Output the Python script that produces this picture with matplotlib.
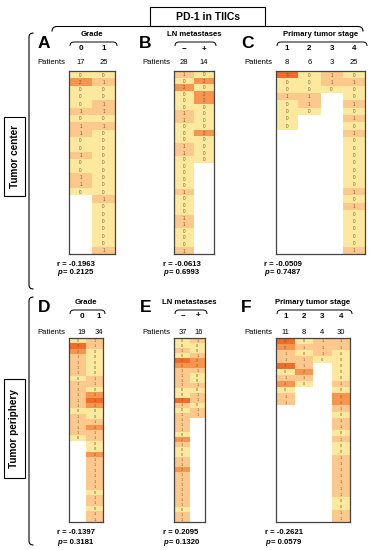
import numpy as np
import matplotlib.pyplot as plt
from matplotlib.colors import ListedColormap, BoundaryNorm
from matplotlib.patches import Rectangle, PathPatch
from matplotlib.path import Path

plt.rcParams['font.family'] = ['Liberation Sans', 'DejaVu Sans']

W, H = 372, 550

# ---- data -------------------------------------------------------------
GRADE_LABELS = ["0", "1"]
LN_LABELS = ["\u2212", "+"]
STAGE_LABELS = ["1", "2", "3", "4"]

CENTER_GRADE = [
    [0, 2, 0, 0, 0, 1, 0, 1, 1, 0, 0, 1, 0, 0, 1, 1, 0],
    [0, 1, 0, 0, 1, 1, 0, 1, 0, 0, 0, 0, 0, 0, 0, 0, 0, 1, 0, 0, 0, 0, 0, 0, 1],
]
CENTER_LN = [
    [1, 0, 2, 0, 0, 0, 1, 1, 0, 0, 0, 1, 1, 0, 0, 0, 0, 0, 1, 0, 0, 0, 1, 1, 0, 0, 0, 1],
    [0, 2, 0, 2, 2, 0, 0, 0, 0, 2, 0, 0, 0, 0],
]
CENTER_STAGE = [
    [3, 0, 0, 1, 0, 0, 0, 0],
    [0, 0, 0, 1, 1, 0],
    [1, 1, 0],
    [0, 1, 0, 0, 1, 0, 1, 0, 1, 0, 0, 0, 0, 0, 0, 0, 1, 0, 1, 0, 0, 0, 0, 0, 1],
]
PERIPH_GRADE = [
    [0, 3, 2, 1, 1, 1, 1, 0, 1, 1, 1, 1, 1, 0, 1, 1, 1, 1, 0],
    [1, 1, 0, 0, 0, 0, 0, 1, 1, 0, 2, 3, 2, 0, 0, 1, 2, 1, 1, 0, 0, 2, 1, 1, 1, 1, 1, 1, 0, 1, 1, 0, 1, 1],
]
PERIPH_LN = [
    [0, 0, 1, 0, 3, 2, 1, 1, 1, 1, 0, 0, 3, 1, 0, 1, 1, 1, 1, 0, 2, 1, 0, 0, 1, 1, 2, 1, 1, 1, 1, 1, 1, 1, 0, 1, 1],
    [1, 0, 0, 1, 2, 2, 1, 0, 0, 1, 0, 1, 1, 0, 1, 1],
]
PERIPH_STAGE = [
    [3, 2, 1, 1, 3, 0, 1, 2, 0, 1, 1],
    [0, 1, 0, 1, 1, 2, 1, 0],
    [1, 1, 1, 0],
    [1, 1, 0, 0, 0, 0, 0, 1, 0, 2, 2, 1, 0, 1, 1, 0, 1, 0, 0, 1, 1, 1, 1, 1, 1, 1, 0, 0, 1, 1],
]
R_VALUES = ["-0.1963", "-0.0613", "-0.0509", "-0.1397", "0.2095", "-0.2621"]
P_VALUES = ["0.2125", "0.6993", "0.7487", "0.3181", "0.1320", "0.0579"]

# ---- style ------------------------------------------------------------
CELL_COLORS = ['#fde99e', '#fcc88c', '#f7954f', '#f06c28']
CELL_TEXT = '#6e5a3c'
cmap = ListedColormap(CELL_COLORS)
norm = BoundaryNorm([-0.5, 0.5, 1.5, 2.5, 3.5], cmap.N)

TOP = dict(letter_y=43, title_y=34, brace_y=42, head_y=49, pat_y=63,
           box_y=(71, 254), r_y=264, p_y=272, cell_fs=3.3)
BOT = dict(letter_y=307, title_y=302, brace_y=310, head_y=316, pat_y=333,
           box_y=(338, 522), r_y=533, p_y=543, cell_fs=2.7)

PANELS = [
    ("A", "Grade", GRADE_LABELS, CENTER_GRADE, (69, 115), 0, TOP),
    ("B", "LN metastases", LN_LABELS, CENTER_LN, (174, 214), 0, TOP),
    ("C", "Primary tumor stage", STAGE_LABELS, CENTER_STAGE, (276, 365), 0, TOP),
    ("D", "Grade", GRADE_LABELS, PERIPH_GRADE, (69, 103), 4, BOT),
    ("E", "LN metastases", LN_LABELS, PERIPH_LN, (174, 205), 1, BOT),
    ("F", "Primary tumor stage", STAGE_LABELS, PERIPH_STAGE, (276, 350), 0, BOT),
]
LETTER_X = [44, 145, 247, 44, 146, 246]
STAT_X = [57, 163, 264, 57, 163, 265]


def hbrace(ax, x0, x1, y, h=4.5, r=4, lw=0.8):
    verts = [(x0, y + h), (x0, y), (x0 + r, y), (x1 - r, y), (x1, y), (x1, y + h)]
    codes = [Path.MOVETO, Path.CURVE3, Path.CURVE3, Path.LINETO, Path.CURVE3, Path.CURVE3]
    ax.add_patch(PathPatch(Path(verts, codes), fill=False, lw=lw, color='black'))


def vbrace(ax, x, y0, y1, w=4.5, r=4, lw=0.8):
    verts = [(x + w, y0), (x, y0), (x, y0 + r), (x, y1 - r), (x, y1), (x + w, y1)]
    codes = [Path.MOVETO, Path.CURVE3, Path.CURVE3, Path.LINETO, Path.CURVE3, Path.CURVE3]
    ax.add_patch(PathPatch(Path(verts, codes), fill=False, lw=lw, color='black'))


def draw_heatmap(fig, cols, xr, yr, fs):
    nmax = max(len(c) for c in cols)
    arr = np.full((nmax, len(cols)), np.nan)
    for j, c in enumerate(cols):
        arr[:len(c), j] = c
    ax = fig.add_axes([xr[0] / W, 1 - yr[1] / H, (xr[1] - xr[0]) / W, (yr[1] - yr[0]) / H])
    ax.pcolormesh(np.ma.masked_invalid(arr), cmap=cmap, norm=norm)
    for j, c in enumerate(cols):
        for i, v in enumerate(c):
            ax.text(j + 0.5, i + 0.55, str(v), ha='center', va='center',
                    fontsize=fs, color=CELL_TEXT)
    ax.set_xlim(0, len(cols))
    ax.set_ylim(nmax, 0)
    ax.set_xticks([])
    ax.set_yticks([])
    for s in ax.spines.values():
        s.set_color('#444444')
        s.set_linewidth(0.9)


def main():
    fig = plt.figure(figsize=(W / 100, H / 100), dpi=100)
    ov = fig.add_axes([0, 0, 1, 1])
    ov.set_xlim(0, W)
    ov.set_ylim(H, 0)
    ov.axis('off')

    # header box and big brace
    ov.add_patch(Rectangle((150, 7), 115, 19, fill=False, lw=0.8, color='black'))
    ov.text(207.5, 16.5, "PD-1 in TIICs", ha='center', va='center',
            fontsize=7.5, fontweight='bold')
    hbrace(ov, 52, 363, 26.5, h=5, r=5)

    # row labels
    vbrace(ov, 29, 33, 289)
    vbrace(ov, 29, 297, 545)
    for (y0, y1, label) in [(117, 196, "Tumor center"), (379, 478, "Tumor periphery")]:
        ov.add_patch(Rectangle((4, y0), 21, y1 - y0, fill=False, lw=0.8, color='black'))
        ov.text(14.5, (y0 + y1) / 2, label, rotation=90, ha='center', va='center',
                fontsize=7.2, fontweight='bold')

    for k, (letter, title, heads, cols, xr, dx, row) in enumerate(PANELS):
        x0, x1 = xr
        ncol = len(cols)
        cw = (x1 - x0) / ncol
        ov.text(LETTER_X[k], row['letter_y'], letter, ha='center', va='center',
                fontsize=12.5, fontweight='bold')
        ov.text((x0 + x1) / 2, row['title_y'], title, ha='center', va='center',
                fontsize=5.6, fontweight='bold')
        hbrace(ov, x0 + 1, x1 + 2, row['brace_y'], h=4, r=4, lw=0.7)
        ov.text(x0 - 4, row['pat_y'], "Patients", ha='right', va='center', fontsize=5.5)
        for j, c in enumerate(cols):
            cx = x0 + (j + 0.5) * cw + dx
            ov.text(cx, row['head_y'], heads[j], ha='center', va='center',
                    fontsize=5.8, fontweight='bold')
            ov.text(cx, row['pat_y'], str(len(c)), ha='center', va='center', fontsize=5.5)
        draw_heatmap(fig, cols, xr, row['box_y'], row['cell_fs'])
        sx = STAT_X[k]
        ov.text(sx, row['r_y'], "r = " + R_VALUES[k], ha='left', va='center',
                fontsize=5.6, fontweight='bold')
        ov.text(sx, row['p_y'], "p", ha='left', va='center',
                fontsize=5.6, fontweight='bold', fontstyle='italic')
        ov.text(sx + 6, row['p_y'], "= " + P_VALUES[k], ha='left', va='center',
                fontsize=5.6, fontweight='bold')

    fig.savefig("out.png", dpi=100)
    plt.close(fig)


if __name__ == "__main__":
    main()
